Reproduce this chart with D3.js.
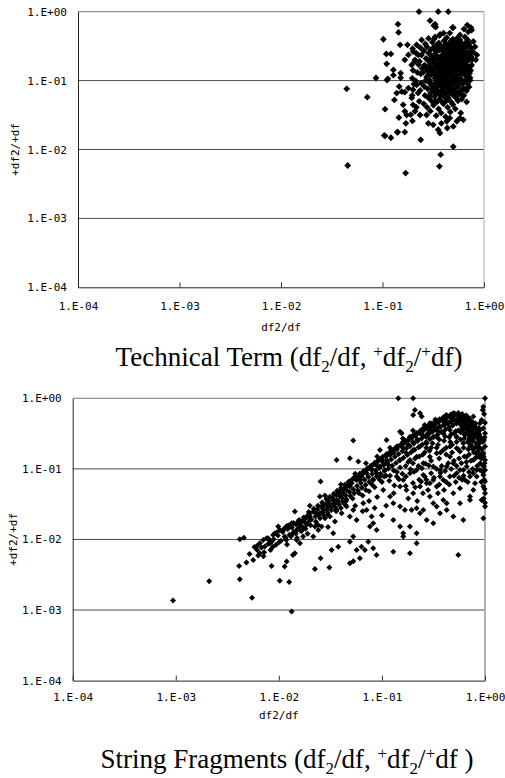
<!DOCTYPE html>
<html>
<head>
<meta charset="utf-8">
<script src="https://cdn.jsdelivr.net/npm/d3@7"></script>
<style>
  body { margin: 0; background: #fff; }
  svg { display: block; }
</style>
</head>
<body>
<svg id="chart" width="505" height="778"></svg>
<script>
// decade ticks shared by both axes of both panels
const tickValues = [1e-4, 1e-3, 1e-2, 1e-1, 1];
const tickLabels = ["1.E-04", "1.E-03", "1.E-02", "1.E-01", "1.E+00"];
const xTitle = "df2/df";
const yTitle = "+df2/+df";

// Technical Term: [df2/df, +df2/+df]
const termSparse = [
  [0.0444,0.0759],[0.0454,0.00586],[0.0708,0.0575],[0.0863,0.109],[0.102,0.398],[0.109,0.244],[0.121,0.244],
  [0.11,0.175],[0.111,0.102],[0.106,0.0385],[0.106,0.0158],[0.121,0.0148],[0.14,0.0178],[0.169,0.00455],
  [0.142,0.66],[0.144,0.5],[0.229,1.0],[0.354,1.0],[0.445,1.0],[0.294,0.74],[0.33,0.66],[0.335,0.6],
  [0.498,0.011],[0.374,0.0084],[0.364,0.0057],[0.238,0.0138],[0.745,0.587],[0.685,0.64],[0.635,0.56],[0.498,0.587],
  [0.85,0.236],[0.83,0.2],[0.785,0.37],[0.815,0.31],[0.755,0.169],[0.728,0.143],[0.728,0.11],[0.675,0.049],
  [0.625,0.027],[0.58,0.0286],[0.54,0.0257],[0.46,0.0286],[0.43,0.0257],[0.38,0.024],[0.354,0.0194],[0.368,0.0173],
  [0.435,0.0205],[0.498,0.0216],[0.316,0.0228],[0.283,0.024],[0.272,0.0317],[0.234,0.0317],[0.209,0.0358],
  [0.2,0.0445],[0.194,0.056],[0.2,0.0736],[0.217,0.0866],[0.196,0.108],[0.194,0.169],[0.209,0.2],[0.2,0.264],
  [0.225,0.236],[0.217,0.33],[0.243,0.39],[0.284,0.41],[0.32,0.63],[0.33,0.43],[0.37,0.47],[0.4,0.49],[0.46,0.49],
  [0.49,0.59],[0.58,0.46],[0.65,0.43],[0.7,0.51],[0.755,0.54],[0.149,0.33],[0.176,0.33],[0.166,0.2],[0.18,0.236],
  [0.128,0.143],[0.128,0.12],[0.151,0.128],[0.151,0.11],[0.113,0.106],[0.138,0.0658],[0.155,0.069],[0.166,0.068],
  [0.146,0.082],[0.18,0.078],[0.131,0.0524],[0.16,0.0445],[0.166,0.0358],[0.173,0.0317],[0.145,0.0291],
  [0.17,0.024],[0.19,0.032],[0.197,0.026],[0.166,0.0179],[0.141,0.0179],[0.104,0.016]
];
const termCore = [
  [0.23,0.05],[0.235,0.072],[0.24,0.092],[0.238,0.125],[0.245,0.15],[0.232,0.19],[0.242,0.235],[0.236,0.3],
  [0.255,0.046],[0.262,0.061],[0.258,0.082],[0.265,0.1],[0.252,0.132],[0.26,0.168],[0.268,0.21],[0.256,0.27],[0.264,0.34],
  [0.275,0.041],[0.284,0.056],[0.279,0.076],[0.287,0.094],[0.272,0.112],[0.282,0.138],[0.289,0.162],[0.277,0.2],[0.285,0.25],[0.274,0.31],
  [0.296,0.036],[0.303,0.051],[0.298,0.066],[0.306,0.084],[0.293,0.1],[0.301,0.121],[0.308,0.149],[0.295,0.18],[0.304,0.222],[0.299,0.28],[0.31,0.36],
  [0.318,0.044],[0.325,0.059],[0.315,0.071],[0.322,0.089],[0.328,0.108],[0.313,0.13],[0.324,0.158],[0.319,0.19],[0.327,0.242],[0.316,0.3],[0.323,0.4],
  [0.338,0.031],[0.345,0.049],[0.336,0.064],[0.342,0.079],[0.348,0.098],[0.334,0.118],[0.346,0.139],[0.339,0.171],[0.35,0.208],[0.337,0.26],[0.344,0.33],
  [0.357,0.039],[0.364,0.054],[0.355,0.069],[0.367,0.086],[0.36,0.099],[0.353,0.114],[0.366,0.128],[0.358,0.152],[0.369,0.18],[0.356,0.218],[0.363,0.278],[0.359,0.352],[0.365,0.45],
  [0.378,0.034],[0.385,0.05],[0.374,0.061],[0.388,0.074],[0.381,0.091],[0.376,0.109],[0.39,0.124],[0.383,0.141],[0.372,0.162],[0.387,0.19],[0.379,0.228],[0.391,0.27],[0.377,0.32],
  [0.398,0.046],[0.406,0.059],[0.395,0.071],[0.409,0.084],[0.402,0.101],[0.412,0.118],[0.397,0.134],[0.405,0.151],[0.41,0.172],[0.399,0.2],[0.407,0.24],[0.396,0.29],[0.404,0.38],
  [0.418,0.03],[0.426,0.051],[0.421,0.064],[0.431,0.079],[0.416,0.094],[0.428,0.111],[0.423,0.129],[0.433,0.146],[0.419,0.161],[0.427,0.182],[0.432,0.212],[0.417,0.252],[0.425,0.31],[0.429,0.42],
  [0.438,0.041],[0.446,0.056],[0.442,0.069],[0.452,0.086],[0.436,0.102],[0.448,0.119],[0.441,0.139],[0.454,0.156],[0.44,0.172],[0.449,0.198],[0.455,0.232],[0.444,0.268],[0.451,0.34],
  [0.465,0.035],[0.474,0.049],[0.468,0.066],[0.479,0.079],[0.462,0.094],[0.476,0.112],[0.47,0.131],[0.481,0.149],[0.466,0.168],[0.473,0.191],[0.484,0.219],[0.463,0.262],[0.478,0.3],[0.469,0.37],
  [0.493,0.045],[0.503,0.061],[0.497,0.074],[0.51,0.091],[0.49,0.104],[0.506,0.121],[0.499,0.139],[0.512,0.161],[0.492,0.182],[0.508,0.208],[0.496,0.242],[0.514,0.281],[0.501,0.33],[0.494,0.4],
  [0.522,0.039],[0.534,0.056],[0.527,0.069],[0.54,0.086],[0.519,0.101],[0.536,0.119],[0.529,0.142],[0.543,0.161],[0.524,0.188],[0.538,0.222],[0.531,0.26],[0.545,0.3],[0.526,0.36],
  [0.553,0.051],[0.566,0.064],[0.558,0.081],[0.572,0.099],[0.55,0.121],[0.568,0.141],[0.561,0.171],[0.575,0.199],[0.556,0.232],[0.57,0.27],[0.563,0.32],[0.551,0.42],
  [0.59,0.034],[0.604,0.054],[0.596,0.071],[0.612,0.089],[0.586,0.109],[0.607,0.131],[0.599,0.151],[0.615,0.179],[0.593,0.21],[0.609,0.249],[0.601,0.3],[0.588,0.36],
  [0.632,0.061],[0.648,0.076],[0.638,0.094],[0.655,0.119],[0.627,0.141],[0.651,0.171],[0.642,0.199],[0.66,0.239],[0.635,0.282],[0.647,0.34],
  [0.672,0.071],[0.69,0.089],[0.68,0.112],[0.697,0.139],[0.668,0.171],[0.686,0.208],[0.701,0.258],[0.676,0.31],[0.692,0.39],
  [0.712,0.081],[0.73,0.101],[0.719,0.128],[0.738,0.161],[0.708,0.199],[0.726,0.248],[0.742,0.3],
  [0.196,0.061],[0.204,0.089],[0.2,0.141],[0.208,0.19],[0.198,0.29],
  [0.216,0.041],[0.224,0.066],[0.213,0.099],[0.221,0.131],[0.227,0.171],[0.215,0.25]
];
const termFill = [
  [0.31,0.075],[0.33,0.092],[0.35,0.105],[0.37,0.095],[0.39,0.082],[0.41,0.107],[0.43,0.098],[0.45,0.077],[0.47,0.088],
  [0.49,0.115],[0.51,0.105],[0.53,0.078],[0.55,0.093],[0.57,0.11],[0.59,0.125],[0.61,0.1],[0.63,0.13],[0.66,0.155],
  [0.31,0.14],[0.33,0.17],[0.35,0.16],[0.37,0.14],[0.39,0.155],[0.41,0.135],[0.43,0.165],[0.45,0.145],[0.47,0.18],
  [0.49,0.155],[0.51,0.175],[0.53,0.15],[0.55,0.185],[0.57,0.16],[0.59,0.19],[0.61,0.165],[0.63,0.22],[0.66,0.19],[0.69,0.23],
  [0.3,0.2],[0.32,0.21],[0.34,0.23],[0.36,0.2],[0.38,0.21],[0.4,0.22],[0.42,0.23],[0.44,0.25],[0.46,0.21],[0.48,0.24],
  [0.5,0.26],[0.52,0.23],[0.54,0.25],[0.56,0.28],[0.58,0.24],[0.6,0.27],[0.62,0.29],[0.65,0.26],
  [0.33,0.28],[0.36,0.31],[0.39,0.3],[0.42,0.34],[0.45,0.3],[0.48,0.33],[0.52,0.31],[0.55,0.34],[0.58,0.39],[0.62,0.33],
  [0.67,0.36],[0.71,0.34],[0.28,0.12],[0.27,0.15],[0.29,0.06],[0.33,0.05],[0.39,0.063],[0.45,0.067],[0.52,0.058],
  [0.58,0.064],[0.62,0.075],[0.66,0.1],[0.7,0.12],[0.74,0.14],[0.75,0.22],[0.78,0.26],[0.76,0.2]
];

// String Fragments: [df2/df, +df2/+df]
const fragLow = [
  [0.00094,0.00136],[0.00211,0.00256],[0.00418,0.00273],[0.00412,0.00422],[0.00418,0.0101],[0.00458,0.0106],
  [0.00485,0.0047],[0.00564,0.0051],[0.0055,0.00149],[0.00616,0.0071],[0.00654,0.00638],[0.00731,0.00792],
  [0.00818,0.00883],[0.0076,0.0104],[0.0088,0.0116],[0.0085,0.0093],[0.00986,0.0152],[0.011,0.0136],[0.0114,0.011],
  [0.0085,0.0042],[0.0102,0.0026],[0.0126,0.0025],[0.0133,0.00095],[0.0137,0.006],[0.0143,0.0064],[0.0119,0.00486],
  [0.0114,0.00413],[0.0143,0.0248],[0.012,0.0155],[0.0128,0.0152],[0.0138,0.0122],[0.0149,0.0136],[0.016,0.0152],
  [0.0172,0.0144],[0.0186,0.0161],[0.0149,0.0098],[0.016,0.0088],[0.0172,0.011],[0.0186,0.0211],[0.02,0.0189],
  [0.0224,0.0152],[0.0241,0.0136],[0.026,0.0152],[0.0216,0.011],[0.025,0.0235],[0.0269,0.0262],[0.0301,0.0292],
  [0.028,0.02],[0.0313,0.0211],[0.0254,0.066],[0.025,0.0405],[0.0254,0.0054],[0.0309,0.004],[0.0224,0.0038],
  [0.0337,0.0122],[0.0325,0.0071],[0.0377,0.0079],[0.0337,0.0326],[0.0363,0.0363],[0.0391,0.0405],[0.0421,0.0451],
  [0.0454,0.0503],[0.0489,0.0561],[0.0363,0.0262],[0.0406,0.0235],[0.0454,0.0292],[0.0489,0.0211],[0.0527,0.0262],
  [0.0568,0.0189],[0.0363,0.134],[0.0489,0.141],[0.059,0.127],[0.0527,0.252],[0.0489,0.066],[0.0548,0.0777],
  [0.0611,0.0697],[0.0659,0.0867],[0.071,0.0966],[0.0527,0.011],[0.0489,0.0093],[0.0568,0.0071],[0.0634,0.0079],
  [0.0527,0.0049],[0.0489,0.0046],[0.0611,0.0054],[0.0684,0.0071],[0.0737,0.0093],[0.0824,0.0075],[0.0887,0.006],
  [0.0659,0.0326],[0.071,0.0262],[0.0794,0.0211],[0.0824,0.017],[0.0887,0.0136],[0.0765,0.0152],
  [0.00654,0.0088],[0.00705,0.0098],[0.00788,0.0104],[0.00914,0.0122],[0.0102,0.0136],[0.0119,0.0152],[0.0133,0.017],
  [0.0154,0.0179],[0.0172,0.0189],[0.02,0.0211],[0.0232,0.0235],[0.0269,0.0292],[0.0301,0.0326],[0.0337,0.0363],
  [0.0391,0.0451],[0.0437,0.0531],[0.0508,0.0625],[0.0568,0.0697],[0.0635,0.0777],[0.071,0.0867],[0.0794,0.0966],
  [0.065,0.042],[0.075,0.048],[0.085,0.055],[0.075,0.035],[0.065,0.025],[0.055,0.03],[0.045,0.035],[0.04,0.028],
  [0.035,0.018],[0.03,0.015],[0.09,0.04],[0.085,0.028]
];
const fragRidge = [
  [0.0052,0.0062],[0.0058,0.0078],[0.0063,0.0059],[0.0068,0.0077],[0.0072,0.0066],[0.0079,0.0087],[0.0083,0.0071],
  [0.0089,0.0101],[0.0094,0.0084],[0.0098,0.0114],[0.0105,0.0096],[0.0109,0.0127],[0.0116,0.0106],[0.0122,0.0141],
  [0.0127,0.0117],[0.0134,0.0148],[0.014,0.0129],[0.0147,0.0163],[0.0153,0.014],[0.0161,0.0171],[0.0168,0.0152],
  [0.0176,0.0179],[0.0183,0.0201],[0.0191,0.0169],[0.0198,0.0229],[0.0207,0.0192],[0.0215,0.0246],[0.0226,0.0212],
  [0.0236,0.0266],[0.0245,0.0224],[0.0257,0.029],[0.0268,0.0244],[0.028,0.0316],[0.0292,0.0268],[0.0305,0.0351],
  [0.0318,0.0294],[0.0332,0.0392],[0.0346,0.0321],[0.0361,0.0427],[0.0376,0.035],[0.0392,0.0478],[0.0409,0.039],
  [0.0427,0.0512],[0.0445,0.0422],[0.0464,0.058],[0.0484,0.0471],[0.0505,0.063],[0.0527,0.0513],[0.055,0.0712],
  [0.0573,0.0572],[0.0598,0.0783],[0.0624,0.0631],[0.0651,0.0865],[0.0679,0.07],[0.0708,0.0956],[0.0738,0.077],
  [0.077,0.106],[0.0803,0.0849],[0.0838,0.116],[0.0874,0.0937],[0.0911,0.127],[0.095,0.103],[0.099,0.139],
  [0.104,0.113],[0.108,0.153],[0.113,0.124],[0.118,0.166],[0.123,0.136],[0.128,0.181],[0.134,0.149],[0.139,0.197],
  [0.145,0.163],[0.152,0.214],[0.158,0.178],[0.165,0.232],[0.172,0.194],[0.18,0.252],[0.187,0.21],[0.196,0.275],
  [0.204,0.229],[0.213,0.295],[0.222,0.249],[0.232,0.32],[0.242,0.269],[0.252,0.346],[0.263,0.291],[0.275,0.371],
  [0.287,0.314],[0.3,0.397],[0.312,0.338],[0.326,0.427],[0.34,0.366],[0.355,0.458],[0.37,0.391],[0.386,0.488],
  [0.403,0.416],[0.42,0.517],[0.438,0.441],[0.457,0.546],[0.477,0.466],[0.5,0.566],[0.52,0.487],[0.54,0.585],
  [0.565,0.498],[0.59,0.521],[0.62,0.476],[0.65,0.503],[0.68,0.447],[0.71,0.418],[0.74,0.382],[0.78,0.357],
  [0.012,0.0085],[0.015,0.0105],[0.019,0.012],[0.024,0.016],[0.03,0.022],[0.036,0.025],[0.044,0.031],[0.052,0.038],
  [0.06,0.045],[0.07,0.05],[0.08,0.06],[0.095,0.07],[0.11,0.08],[0.13,0.095],[0.15,0.105],[0.18,0.125],[0.21,0.14],
  [0.25,0.16],[0.29,0.18],[0.34,0.2],[0.02,0.03],[0.028,0.042],[0.04,0.06],[0.055,0.085],[0.07,0.12],[0.09,0.15],
  [0.12,0.2],[0.16,0.27],[0.2,0.35],[0.26,0.42],[0.33,0.5],[0.42,0.58]
];
const fragSpread = [
  [0.0062,0.0082],[0.0071,0.0058],[0.0081,0.0098],[0.0087,0.0078],[0.0096,0.0125],[0.0101,0.0092],[0.0112,0.0141],
  [0.0118,0.0098],[0.0124,0.0158],[0.0131,0.011],[0.0139,0.0171],[0.0146,0.0121],[0.0157,0.0188],[0.0165,0.0131],
  [0.0174,0.0205],[0.0181,0.0142],[0.0195,0.0245],[0.0203,0.0159],[0.0218,0.0272],[0.0229,0.0178],[0.0239,0.0301],
  [0.0251,0.0199],[0.0263,0.0335],[0.0274,0.0218],[0.0289,0.0372],[0.0298,0.0239],[0.0312,0.0402],[0.0324,0.0261],
  [0.0341,0.0445],[0.0352,0.0285],[0.0368,0.0489],[0.0383,0.0312],[0.0401,0.0538],[0.0416,0.0341],[0.0436,0.0598],
  [0.0452,0.0372],[0.0472,0.0651],[0.0494,0.0412],[0.0516,0.0712],[0.0539,0.0451],[0.0561,0.0781],[0.0585,0.0493],
  [0.0611,0.0862],[0.0638,0.0541],[0.0665,0.0934],[0.0694,0.0592],[0.0722,0.102],[0.0753,0.0651],[0.0787,0.112],
  [0.0819,0.0712],[0.0856,0.123],[0.0892,0.0779],[0.0931,0.135],[0.0972,0.0853],[0.102,0.148],[0.106,0.093],
  [0.111,0.162],[0.116,0.101],[0.121,0.176],[0.126,0.111],[0.132,0.192],[0.137,0.121],[0.143,0.21],[0.149,0.132],
  [0.156,0.229],[0.162,0.144],[0.169,0.25],[0.176,0.157],[0.184,0.272],[0.191,0.171],[0.2,0.296],[0.208,0.186],
  [0.218,0.322],[0.227,0.203],[0.237,0.349],[0.247,0.221],[0.258,0.378],[0.269,0.241],[0.281,0.408],[0.293,0.262],
  [0.306,0.44],[0.319,0.284],[0.333,0.473],[0.347,0.308],[0.362,0.505],[0.378,0.333],[0.394,0.537],[0.411,0.359],
  [0.429,0.566],[0.447,0.386],[0.466,0.59],[0.486,0.413],[0.507,0.61],[0.529,0.44],
  [0.55,0.62],[0.58,0.56],[0.61,0.49],[0.64,0.55],[0.67,0.47],[0.7,0.52],[0.73,0.44],[0.76,0.46],[0.79,0.41],
  [0.82,0.38],[0.85,0.35],[0.88,0.31],[0.56,0.45],[0.59,0.41],[0.63,0.43],[0.66,0.39],[0.69,0.41],[0.72,0.37],
  [0.75,0.35],[0.78,0.32],[0.81,0.33],[0.84,0.29],[0.87,0.26],[0.9,0.24],
  [0.105,0.078],[0.118,0.068],[0.132,0.058],[0.146,0.071],[0.158,0.085],[0.171,0.078],[0.189,0.099],[0.205,0.091],
  [0.226,0.11],[0.244,0.102],[0.265,0.118],[0.285,0.112]
];
const fragHigh = [
  [0.0824,0.0697],[0.0887,0.0867],[0.0957,0.108],[0.103,0.12],[0.111,0.134],[0.0957,0.0777],[0.107,0.0966],[0.115,0.114],
  [0.0957,0.185],[0.111,0.257],[0.12,0.157],[0.103,0.0503],[0.12,0.0405],[0.129,0.0326],[0.15,0.0292],[0.167,0.0262],
  [0.194,0.0262],[0.217,0.0277],[0.234,0.0235],[0.129,0.0189],[0.15,0.0152],[0.161,0.0122],[0.187,0.0152],[0.217,0.0122],
  [0.129,0.0067],[0.161,0.011],[0.187,0.0064],[0.217,0.0088],[0.15,0.0561],[0.173,0.0503],[0.201,0.0451],[0.234,0.0561],
  [0.272,0.0625],[0.315,0.0697],[0.366,0.0777],[0.139,0.0777],[0.161,0.0697],[0.187,0.0867],[0.217,0.0966],[0.252,0.0821],
  [0.15,0.134],[0.173,0.166],[0.201,0.185],[0.234,0.207],[0.272,0.231],[0.315,0.286],[0.139,0.207],[0.161,0.243],
  [0.187,0.286],[0.217,0.319],[0.252,0.376],[0.292,0.419],[0.34,0.467],[0.15,0.337],[0.155,0.319],[0.201,0.581],
  [0.209,0.684],[0.201,1.0],[0.144,1.0],[0.234,0.613],[0.243,0.55],[0.292,0.442],[0.187,0.134],[0.217,0.149],
  [0.252,0.12],[0.292,0.149],[0.34,0.166],[0.394,0.185],[0.457,0.207],[0.531,0.196],[0.616,0.231],[0.715,0.257],
  [0.315,0.108],[0.366,0.0966],[0.425,0.108],[0.493,0.12],[0.572,0.0966],[0.664,0.108],[0.77,0.0867],[0.894,0.0966],
  [0.292,0.0625],[0.34,0.0561],[0.394,0.0697],[0.457,0.0777],[0.531,0.0867],[0.616,0.0966],[0.715,0.0777],[0.83,0.0966],
  [0.292,0.0405],[0.315,0.0326],[0.34,0.0292],[0.394,0.0363],[0.425,0.0262],[0.493,0.0211],[0.572,0.0326],[0.616,0.0189],
  [0.551,0.006],[0.252,0.0262],[0.272,0.0189],[0.315,0.017],[0.366,0.0235],[0.425,0.0326],[0.493,0.0451],[0.715,0.0363],
  [0.315,0.397],[0.366,0.493],[0.425,0.55],[0.493,0.613],[0.572,0.442],[0.664,0.493],[0.77,0.397],[0.894,0.356],
  [0.394,0.319],[0.457,0.356],[0.531,0.286],[0.616,0.319],[0.715,0.207],[0.83,0.166],[0.34,0.286],[0.272,0.286],
  [0.292,0.356],[0.457,0.467],[0.77,0.55],[0.742,0.303],[0.572,0.176],[0.664,0.149],[0.77,0.134],[0.457,0.149],
  [0.08,0.1],[0.09,0.11],[0.1,0.13],[0.11,0.15],[0.12,0.16],[0.13,0.17],[0.14,0.19],[0.16,0.2],[0.18,0.22],[0.2,0.24],
  [0.22,0.26],[0.25,0.3],[0.28,0.32],[0.3,0.34],[0.33,0.36],[0.36,0.4],[0.4,0.43],[0.44,0.45],[0.5,0.5],[0.55,0.52],
  [0.6,0.45],[0.65,0.4],[0.7,0.35],[0.75,0.32],[0.8,0.3],[0.85,0.27],
  [0.17,0.057],[0.2,0.063],[0.23,0.07],[0.26,0.078],[0.3,0.087],[0.34,0.1],[0.38,0.11],[0.44,0.12],[0.5,0.13],
  [0.56,0.14],[0.63,0.15],[0.7,0.16],[0.78,0.17],[0.86,0.18],[0.93,0.19],
  [0.4,0.25],[0.45,0.28],[0.5,0.32],[0.55,0.35],[0.6,0.38],[0.65,0.36],[0.7,0.3],[0.42,0.2],[0.48,0.22],[0.53,0.24],
  [0.58,0.26],[0.63,0.27],[0.68,0.24],[0.73,0.22],[0.8,0.2],[0.88,0.23],[0.35,0.22],[0.3,0.2],[0.26,0.17],[0.23,0.15],
  [0.2,0.12],[0.17,0.11],[0.14,0.09],[0.12,0.08],[0.1,0.065],
  [0.25,0.045],[0.28,0.05],[0.35,0.045],[0.4,0.05],[0.45,0.06],[0.52,0.065],[0.6,0.07],[0.68,0.065],[0.22,0.035],
  [0.18,0.038],[0.13,0.045],[0.11,0.03],[0.1,0.022],
  [0.27,0.2],[0.31,0.23],[0.36,0.26],[0.41,0.29],[0.47,0.31],[0.52,0.34],[0.58,0.33],[0.64,0.3],[0.7,0.27],[0.76,0.25],
  [0.82,0.23],[0.88,0.2],[0.3,0.13],[0.36,0.14],[0.42,0.16],[0.48,0.17],[0.55,0.19],[0.62,0.2],[0.69,0.19],[0.76,0.19],
  [0.84,0.15],[0.9,0.16],[0.37,0.17],[0.46,0.24],[0.53,0.28],[0.61,0.36],[0.67,0.33],[0.73,0.28],[0.79,0.28],[0.86,0.32],
  [0.91,0.27],[0.62,0.55],[0.56,0.58],[0.48,0.52],[0.41,0.47],[0.35,0.34],[0.6,0.6],[0.66,0.57],[0.72,0.48],[0.81,0.44],
  [0.87,0.38],[0.21,0.055],[0.24,0.066],[0.27,0.07],[0.32,0.075],[0.37,0.088],[0.41,0.093],[0.47,0.1],[0.53,0.11],
  [0.59,0.12],[0.66,0.125],[0.73,0.13],[0.8,0.14],[0.87,0.15],[0.5,0.08],[0.56,0.075],[0.62,0.08],[0.7,0.09],[0.76,0.1],
  [0.84,0.11],[0.42,0.065],[0.36,0.06]
];
const fragEdge = [
  [1,1],[0.963,0.762],[0.949,0.684],[0.928,0.493],[0.963,0.376],[1,0.319],[0.978,0.257],[1,0.207],[0.963,0.166],
  [1,0.134],[0.978,0.108],[1,0.0966],[0.963,0.082],[1,0.066],[0.963,0.0561],[1,0.0451],[0.928,0.0363],[1,0.0292],
  [0.963,0.02],[0.894,0.286],[0.862,0.207],[0.894,0.442],[0.83,0.0777],[0.8,0.0625],[0.77,0.0503],[0.715,0.0405],
  [0.742,0.207],[0.639,0.0697],[0.572,0.0531],[0.98,0.6],[1,0.45],[0.99,0.28],[0.97,0.15],[0.99,0.12],[0.96,0.11],
  [0.98,0.07],[0.99,0.052],[0.97,0.038],[1,0.033],[0.95,0.24],[0.92,0.14],[0.9,0.12],[0.95,0.09],[0.92,0.065]
];

const svg = d3.select("#chart");
const tickFmt = v => tickLabels[tickValues.indexOf(v)];

function diamond(r) {
  return `M0,${-r}L${r},0L0,${r}L${-r},0Z`;
}

function drawPanel(p) {
  const x = d3.scaleLog().domain([1e-4, 1]).range([p.left, p.right]);
  const y = d3.scaleLog().domain([1e-4, 1]).range([p.bottom, p.top]);
  const g = svg.append("g");

  // horizontal gridlines
  g.selectAll("line.grid")
    .data(tickValues.slice(1))
    .join("line")
    .attr("x1", p.left).attr("x2", p.right)
    .attr("y1", d => y(d)).attr("y2", d => y(d))
    .attr("stroke", d => d === 1 ? "#7a7a7a" : "#4a4a4a")
    .attr("stroke-width", 1);

  // right border of plot area
  g.append("line")
    .attr("x1", p.right).attr("x2", p.right)
    .attr("y1", p.top).attr("y2", p.bottom)
    .attr("stroke", "#b0b0b0")
    .attr("stroke-width", p.rightW);

  // points
  g.append("g")
    .selectAll("path")
    .data(p.data)
    .join("path")
    .attr("d", diamond(p.r))
    .attr("transform", d => `translate(${x(d[0])},${y(d[1])})`)
    .attr("fill", "#000");

  const xAxis = g.append("g")
    .attr("transform", `translate(0,${p.bottom})`)
    .call(d3.axisBottom(x).tickValues(tickValues).tickFormat(tickFmt)
      .tickSizeInner(-5).tickSizeOuter(0).tickPadding(p.xPad));
  const yAxis = g.append("g")
    .attr("transform", `translate(${p.left},0)`)
    .call(d3.axisLeft(y).tickValues(tickValues).tickFormat(tickFmt)
      .tickSize(0).tickPadding(p.yPad));

  [xAxis, yAxis].forEach(a => {
    a.select(".domain").attr("stroke", "#222");
    a.selectAll(".tick line").attr("stroke", "#333");
    a.selectAll("text")
      .attr("fill", "#000")
      .style("font-family", "'DejaVu Sans Mono', monospace")
      .style("font-size", "11px");
  });

  // axis titles
  g.append("text")
    .attr("x", (p.left + p.right) / 2)
    .attr("y", p.xTitleY)
    .attr("text-anchor", "middle")
    .style("font-family", "'DejaVu Sans Mono', monospace")
    .style("font-size", "11px")
    .text(xTitle);
  g.append("text")
    .attr("transform", `translate(${p.yTitleX},${(p.top + p.bottom) / 2}) rotate(-90)`)
    .attr("text-anchor", "middle")
    .style("font-family", "'DejaVu Sans Mono', monospace")
    .style("font-size", "11px")
    .text(yTitle);

  // caption with sub/superscripts
  const cap = g.append("text")
    .attr("x", p.capX)
    .attr("y", p.capY)
    .attr("text-anchor", "middle")
    .style("font-family", "'Liberation Serif', 'Times New Roman', serif")
    .style("font-size", "27px")
    .attr("fill", "#000");
  let shift = 0;
  p.caption.forEach(part => {
    const s = part.sub ? 6 : part.sup ? -9 : 0;
    cap.append("tspan")
      .attr("dy", s - shift)
      .style("font-size", part.sub || part.sup ? "17px" : null)
      .text(part.t);
    shift = s;
  });
}

drawPanel({
  left: 78, right: 484, top: 11.7, bottom: 287.3, r: 3.4, rightW: 1,
  xPad: 15, yPad: 11, xTitleY: 331, yTitleX: 19, capX: 289, capY: 366,
  data: termSparse.concat(termCore, termFill),
  caption: [
    { t: "Technical Term (df" }, { t: "2", sub: true }, { t: "/df, " },
    { t: "+", sup: true }, { t: "df" }, { t: "2", sub: true }, { t: "/" },
    { t: "+", sup: true }, { t: "df)" }
  ]
});

drawPanel({
  left: 72.7, right: 485, top: 398.3, bottom: 680.6, r: 3.0, rightW: 2,
  xPad: 12.5, yPad: 11, xTitleY: 719, yTitleX: 17, capX: 287, capY: 768,
  data: fragLow.concat(fragRidge, fragSpread, fragHigh, fragEdge),
  caption: [
    { t: "String Fragments (df" }, { t: "2", sub: true }, { t: "/df, " },
    { t: "+", sup: true }, { t: "df" }, { t: "2", sub: true }, { t: "/" },
    { t: "+", sup: true }, { t: "df )" }
  ]
});
</script>
</body>
</html>
